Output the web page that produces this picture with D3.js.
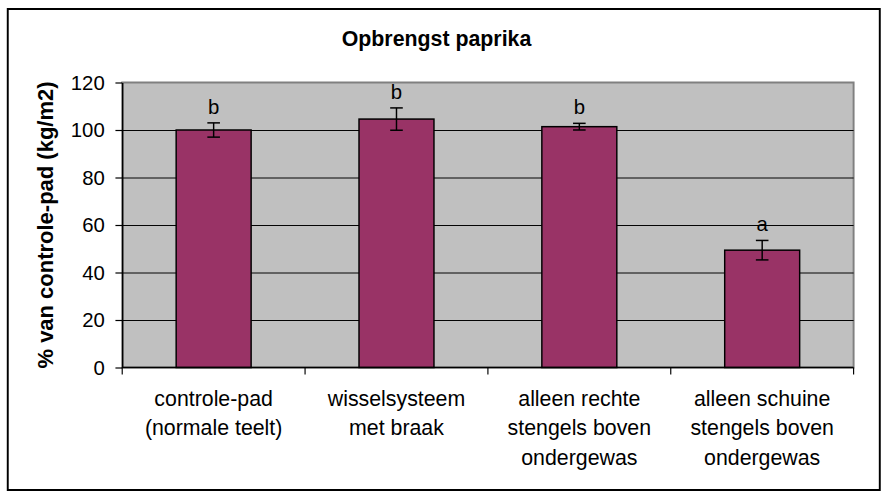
<!DOCTYPE html>
<html>
<head>
<meta charset="utf-8">
<script src="https://cdn.jsdelivr.net/npm/d3@7.9.0/dist/d3.min.js"></script>
<style>
  body { margin: 0; background: #fff; }
  svg { display: block; font-family: Arial, "Liberation Sans", sans-serif; }
</style>
</head>
<body>
<svg id="chart" width="883" height="499"></svg>
<script>
// data
const categories = [
  ['controle-pad', '(normale teelt)'],
  ['wisselsysteem', 'met braak'],
  ['alleen rechte', 'stengels boven', 'ondergewas'],
  ['alleen schuine', 'stengels boven', 'ondergewas']
];
const yieldPct = [100, 104.6, 101.4, 49.4];
const errPct = [3.0, 4.7, 1.4, 4.1];
const groupLetters = ['b', 'b', 'b', 'a'];
const yTicks = [0, 20, 40, 60, 80, 100, 120];

const titleText = 'Opbrengst paprika';
const yTitle = '% van controle-pad (kg/m2)';

// the original screenshot was a bit wider, so squeeze horizontally to fit
const svg = d3.select('#chart');
const root = svg.append('g').attr('transform', 'scale(0.97,1)');
const plot = { left: 126, right: 880, top: 82.5, bottom: 367.5 };

// outer chart border
root.append('rect')
  .attr('x', 8).attr('y', 9)
  .attr('width', 899).attr('height', 481)
  .attr('fill', '#fff')
  .attr('stroke', '#000')
  .attr('stroke-width', 2);

// scales
const y = d3.scaleLinear().domain([0, 120]).range([plot.bottom, plot.top]);
const xCat = d3.scaleBand().domain(d3.range(categories.length)).range([plot.left, plot.right]);
const x = d3.scaleBand().domain(d3.range(categories.length))
  .range([plot.left, plot.right])
  .paddingInner(0.59).paddingOuter(0.295);

// plot area background
root.append('rect')
  .attr('x', plot.left).attr('y', plot.top)
  .attr('width', plot.right - plot.left).attr('height', plot.bottom - plot.top)
  .attr('fill', '#c0c0c0')
  .attr('stroke', '#808080')
  .attr('stroke-width', 2);

// gridlines
const grid = root.append('g')
  .attr('transform', `translate(${plot.left},0)`)
  .call(d3.axisLeft(y).tickValues(yTicks.filter(t => t > 0 && t < 120))
    .tickSize(-(plot.right - plot.left)).tickFormat(''));
grid.select('.domain').remove();
grid.selectAll('line').attr('stroke', '#000').attr('stroke-width', 1);

// bars
root.append('g').selectAll('rect')
  .data(yieldPct)
  .join('rect')
  .attr('x', (d, i) => x(i))
  .attr('y', d => y(d))
  .attr('width', x.bandwidth())
  .attr('height', d => y(0) - y(d))
  .attr('fill', '#993366')
  .attr('stroke', '#000')
  .attr('stroke-width', 1.5);

// error bars
const capW = 6.5;
const errG = root.append('g').attr('stroke', '#000').attr('stroke-width', 1.5);
yieldPct.forEach((v, i) => {
  const cx = x(i) + x.bandwidth() / 2;
  const hi = y(v + errPct[i]);
  const lo = y(v - errPct[i]);
  errG.append('line').attr('x1', cx).attr('x2', cx).attr('y1', hi).attr('y2', lo);
  errG.append('line').attr('x1', cx - capW).attr('x2', cx + capW).attr('y1', hi).attr('y2', hi);
  errG.append('line').attr('x1', cx - capW).attr('x2', cx + capW).attr('y1', lo).attr('y2', lo);
});

// significance letters
root.append('g').selectAll('text')
  .data(groupLetters)
  .join('text')
  .attr('x', (d, i) => x(i) + x.bandwidth() / 2)
  .attr('y', (d, i) => y(yieldPct[i] + errPct[i]) - 9)
  .attr('text-anchor', 'middle')
  .attr('font-size', 21)
  .attr('fill', '#000')
  .text(d => d);

// y axis
const yAxis = root.append('g')
  .attr('transform', `translate(${plot.left},0)`)
  .call(d3.axisLeft(y).tickValues(yTicks).tickSize(7).tickSizeOuter(0).tickPadding(11));
yAxis.select('.domain').attr('stroke', '#000').attr('stroke-width', 1.5);
yAxis.selectAll('.tick line').attr('stroke', '#000').attr('stroke-width', 1.2);
yAxis.selectAll('text').attr('font-size', 21).attr('fill', '#000')
  .attr('font-family', 'Arial, "Liberation Sans", sans-serif');

// x axis line + category boundary ticks
root.append('line')
  .attr('x1', plot.left).attr('x2', plot.right)
  .attr('y1', y(0)).attr('y2', y(0))
  .attr('stroke', '#000').attr('stroke-width', 1.5);
const bounds = xCat.domain().map(i => xCat(i)).concat([plot.right]);
root.append('g').selectAll('line')
  .data(bounds)
  .join('line')
  .attr('x1', d => d).attr('x2', d => d)
  .attr('y1', y(0)).attr('y2', y(0) + 7)
  .attr('stroke', '#000').attr('stroke-width', 1.2);

// category labels (multi-line)
const catLabels = root.append('g').selectAll('text')
  .data(categories)
  .join('text')
  .attr('x', (d, i) => xCat(i) + xCat.bandwidth() / 2)
  .attr('y', 406)
  .attr('text-anchor', 'middle')
  .attr('font-size', 22)
  .attr('fill', '#000');
catLabels.each(function (lines) {
  const t = d3.select(this);
  lines.forEach((line, k) => {
    t.append('tspan')
      .attr('x', t.attr('x'))
      .attr('dy', k === 0 ? 0 : 29.5)
      .text(line);
  });
});

// titles
root.append('text')
  .attr('x', 450).attr('y', 46)
  .attr('text-anchor', 'middle')
  .attr('font-size', 22).attr('font-weight', 'bold')
  .text(titleText);

root.append('text')
  .attr('transform', `translate(55,${(plot.top + plot.bottom) / 2}) rotate(-90)`)
  .attr('text-anchor', 'middle')
  .attr('font-size', 22).attr('font-weight', 'bold')
  .text(yTitle);
</script>
</body>
</html>
